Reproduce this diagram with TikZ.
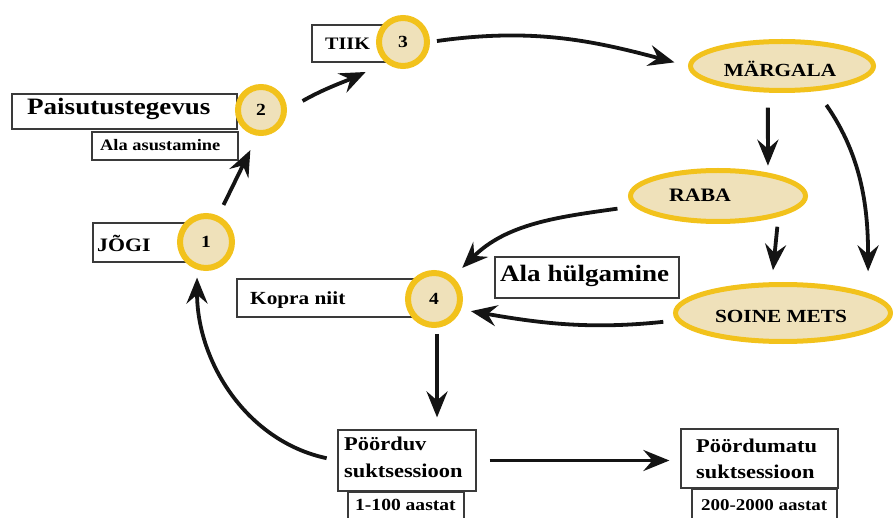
\documentclass[tikz,border=0pt]{standalone}
\usepackage{fontspec}
\setmainfont{Liberation Serif}[FakeStretch=1.15]
\usetikzlibrary{arrows.meta,shapes.geometric,calc}
\definecolor{ring}{HTML}{F2C21C}
\definecolor{beige}{HTML}{EFE1BA}
\definecolor{boxline}{HTML}{3A3A3A}
\newcommand\myfs[2]{\fontsize{#1}{#2}\selectfont\bfseries}
\tikzset{
  boxst/.style={draw=boxline, line width=1.2pt, fill=white, inner sep=0pt},
  txt/.style={inner sep=0pt, anchor=base west, align=left},
  ctxt/.style={inner sep=0pt, anchor=base},
  stage/.style={circle, draw=ring, fill=beige, line width=6pt, inner sep=0pt, outer sep=3pt, font=\myfs{17}{17}},
  habitat/.style={ellipse, draw=ring, fill=beige, line width=5pt, inner sep=0pt, outer sep=2.5pt},
  arr/.style={line width=3.8pt, draw=black!92, -{Stealth[length=26pt,width=21pt,inset=9pt]}}
}
\begin{document}
\begin{tikzpicture}[x=1pt,y=-1pt]
\useasboundingbox (0,0) rectangle (893,518);
% boxes
\node[boxst, minimum width=225, minimum height=35] (bP) at (124.5,111.5) {};
\node[boxst, minimum width=146, minimum height=28] (bA) at (165,146) {};
\node[boxst, minimum width=78, minimum height=37] (bT) at (351,43.5) {};
\node[boxst, minimum width=97, minimum height=39] (bJ) at (141.5,242.5) {};
\node[boxst, minimum width=178, minimum height=38] (bK) at (326,298) {};
\node[boxst, minimum width=184, minimum height=41] (bH) at (587,277.5) {};
\node[boxst, minimum width=138, minimum height=61] (Pb) at (407,460.5) {};
\node[boxst, minimum width=116, minimum height=34] (bY1) at (406,509) {};
\node[boxst, minimum width=157, minimum height=59] (Pm) at (759.5,458.5) {};
\node[boxst, minimum width=145, minimum height=36] (bY2) at (764.5,507) {};
% texts
\node[txt] (tP) at (27,115) {\myfs{23.5}{26}Paisutustegevus};
\node[txt] (tA) at (100,151) {\myfs{16}{18}Ala asustamine};
\node[txt] (tT) at (325,50) {\myfs{17.5}{20}TIIK};
\node[txt] (tJ) at (97,252) {\myfs{19}{21}JÕGI};
\node[txt] (tK) at (250,305) {\myfs{18.5}{21}Kopra niit};
\node[txt] (tH) at (500,282) {\myfs{23.5}{26}Ala hülgamine};
\node[txt] (tPb1) at (344,450) {\myfs{19.5}{27}Pöörduv};
\node[txt] (tPb2) at (344,477) {\myfs{19.5}{27}suktsessioon};
\node[txt] (tY1) at (355,510) {\myfs{17}{19}1-100 aastat};
\node[txt] (tPm1) at (696,452) {\myfs{19.5}{27}Pöördumatu};
\node[txt] (tPm2) at (696,478) {\myfs{19.5}{27}suktsessioon};
\node[txt] (tY2) at (701,510) {\myfs{16.5}{19}200-2000 aastat};
% stage circles
\node[stage, minimum size=52] (c1) at (206,242) {1};
\node[stage, minimum size=46] (c2) at (261,110) {2};
\node[stage, minimum size=48] (c3) at (403,42) {3};
\node[stage, minimum size=52] (c4) at (434,299) {4};
% habitats
\node[habitat, minimum width=183, minimum height=49] (M) at (782,66) {};
\node[habitat, minimum width=175, minimum height=51] (R) at (718,196) {};
\node[habitat, minimum width=215, minimum height=57] (S) at (783,313) {};
\node[ctxt] (tM) at (780,77) {\myfs{18.5}{20}MÄRGALA};
\node[ctxt] (tR) at (700,202) {\myfs{19}{20}RABA};
\node[ctxt] (tS) at (781,322) {\myfs{18.5}{20}SOINE METS};
% arrows
\draw[arr, shorten <=12pt, shorten >=16pt] (c1.65) -- (c2.262);
\draw[arr, shorten <=18pt, shorten >=22pt] (c2.east) to[out=30,in=205] (c3.230);
\draw[arr, shorten <=7pt, shorten >=14pt] (c3.east) to[out=8,in=165] (M.west);
\draw[arr, shorten <=15pt, shorten >=7pt] (M.242) -- (R.25);
\draw[arr, shorten <=17pt, shorten >=22pt] (M.-36) to[out=-55,in=90] (S.13);
\draw[arr, shorten <=10pt, shorten >=12pt] (R.-19) -- (S.110);
\draw[arr, shorten <=17pt, shorten >=13pt] (R.187) to[out=188,in=45] (c4.49);
\draw[arr, shorten <=13pt, shorten >=10pt] (S.184) to[out=186,in=-10] (c4.-21);
\draw[arr, shorten <=6pt, shorten >=12pt] (c4.-84) -- (c4.-84 |- Pb.north);
\draw[arr, shorten <=11pt, shorten >=8pt] (Pb.west) to[out=168,in=-90] (c1.252);
\draw[arr, shorten <=13pt, shorten >=11pt] (Pb.east) -- (Pb.east -| Pm.west);
\end{tikzpicture}
\end{document}
